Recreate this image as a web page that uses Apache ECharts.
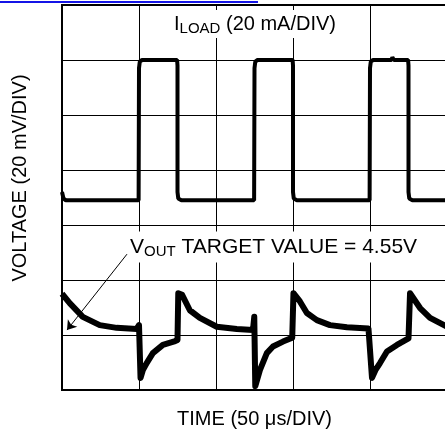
<!DOCTYPE html>
<html><head><meta charset="utf-8">
<script src="https://cdn.jsdelivr.net/npm/echarts@6/dist/echarts.min.js"></script>
<style>html,body{margin:0;padding:0;background:#fff}#c{width:445px;height:435px}</style>
</head><body><div id="c"></div>
<script>
// time in divisions (50 us/DIV), level in divisions
const iloadTime  = [0, 0.02, 0.05, 0.995, 1.0, 1.01, 1.04, 1.495, 1.5, 1.5, 1.51, 1.55, 2.495, 2.5, 2.51, 2.54, 2.995, 3.0, 3.0, 3.01, 3.05, 3.995, 4.0, 4.01, 4.04, 4.28, 4.29, 4.31, 4.495, 4.5, 4.5, 4.51, 4.55, 5.0];
const iloadLevel = [3.6, 3.48, 3.45, 3.45, 5.85, 5.97, 6.0, 6.0, 5.9, 3.6, 3.48, 3.45, 3.45, 5.85, 5.97, 6.0, 6.0, 5.9, 3.6, 3.48, 3.45, 3.45, 5.85, 5.97, 6.0, 6.0, 6.05, 6.0, 6.0, 5.9, 3.6, 3.48, 3.45, 3.45];
const voutTime  = [0, 0.10, 0.27, 0.49, 0.71, 0.97, 1.0, 1.02, 1.05, 1.10, 1.18, 1.31, 1.47, 1.50, 1.51, 1.56, 1.66, 1.79, 2.01, 2.27, 2.48, 2.497, 2.51, 2.57, 2.66, 2.74, 2.87, 2.99, 3.006, 3.09, 3.18, 3.31, 3.48, 3.70, 3.98, 4.0, 4.026, 4.07, 4.13, 4.22, 4.35, 4.50, 4.52, 4.65, 4.78, 5.0];
const voutLevel = [1.75, 1.58, 1.33, 1.18, 1.13, 1.11, 1.18, 0.22, 0.36, 0.49, 0.67, 0.82, 0.89, 0.91, 1.76, 1.73, 1.45, 1.31, 1.15, 1.11, 1.09, 1.33, 0.07, 0.36, 0.67, 0.79, 0.88, 0.95, 1.76, 1.61, 1.40, 1.27, 1.18, 1.14, 1.12, 1.11, 0.22, 0.36, 0.49, 0.70, 0.82, 0.94, 1.76, 1.49, 1.31, 1.15];
const arrowFrom = [0.844, 2.47];
const arrowTo   = [0.065, 1.09];
const xTitle = 'TIME (50 \u03bcs/DIV)';
const yTitle = 'VOLTAGE (20 mV/DIV)';

const zip = (a, b) => a.map((t, i) => [t, b[i]]);
const FONT = 'Liberation Sans, Arial, sans-serif';
const chart = echarts.init(document.getElementById('c'), null, {renderer: 'canvas'});
chart.setOption({
  animation: false,
  backgroundColor: '#fff',
  grid: {left: 62, top: 5, width: 385, height: 385, show: true, borderColor: '#000', borderWidth: 2,
         containLabel: false, outerBoundsMode: 'none'},
  xAxis: {
    type: 'value', min: 0, max: 5, interval: 1,
    axisLine: {show: false}, axisTick: {show: false}, axisLabel: {show: false},
    splitLine: {show: true, lineStyle: {color: '#000', width: 1}},
    name: xTitle, nameLocation: 'middle', nameGap: 19,
    nameTextStyle: {fontFamily: FONT, fontSize: 20, color: '#000'}
  },
  yAxis: {
    type: 'value', min: 0, max: 7, interval: 1,
    axisLine: {show: false}, axisTick: {show: false}, axisLabel: {show: false},
    splitLine: {show: true, lineStyle: {color: '#000', width: 1}}
  },
  series: [
    {type: 'line', data: zip(iloadTime, iloadLevel), showSymbol: false, symbol: 'none',
     lineStyle: {color: '#000', width: 4}, z: 3, silent: true},
    {type: 'line', data: zip(voutTime, voutLevel), showSymbol: false, symbol: 'none',
     lineStyle: {color: '#000', width: 6, join: 'round'}, z: 3, silent: true,
     markLine: {silent: true, symbol: ['none', 'arrow'], symbolSize: 9, label: {show: false},
       lineStyle: {color: '#000', width: 1, type: 'solid'},
       data: [[{coord: arrowFrom}, {coord: arrowTo}]]}}
  ],
  graphic: [
    {type: 'line', z: 100, shape: {x1: 0, y1: 2, x2: 258, y2: 2}, style: {stroke: '#1414e6', lineWidth: 2}},
    {type: 'text', z: 100, x: 255, y: 24, style: {
      text: '{m|I}{s|LOAD}{m| (20 mA/DIV)}', align: 'center', verticalAlign: 'middle',
      backgroundColor: '#fff', padding: [2, 3, 2, 3],
      rich: {m: {fontFamily: FONT, fontSize: 20, fill: '#000', lineHeight: 24},
             s: {fontFamily: FONT, fontSize: 15, fill: '#000', lineHeight: 10, verticalAlign: 'bottom'}}}},
    {type: 'text', z: 100, x: 128, y: 247, style: {
      text: '{m|V}{s|OUT}{m| TARGET VALUE = 4.55V}', align: 'left', verticalAlign: 'middle',
      backgroundColor: '#fff', padding: [3, 2, 3, 2],
      rich: {m: {fontFamily: FONT, fontSize: 21, fill: '#000', lineHeight: 25},
             s: {fontFamily: FONT, fontSize: 15, fill: '#000', lineHeight: 10, verticalAlign: 'bottom'}}}},
    {type: 'text', z: 100, x: 20, y: 178, rotation: Math.PI / 2, style: {
      text: yTitle, align: 'center', verticalAlign: 'middle', font: '20px ' + FONT, fill: '#000'}}
  ]
});
</script></body></html>
